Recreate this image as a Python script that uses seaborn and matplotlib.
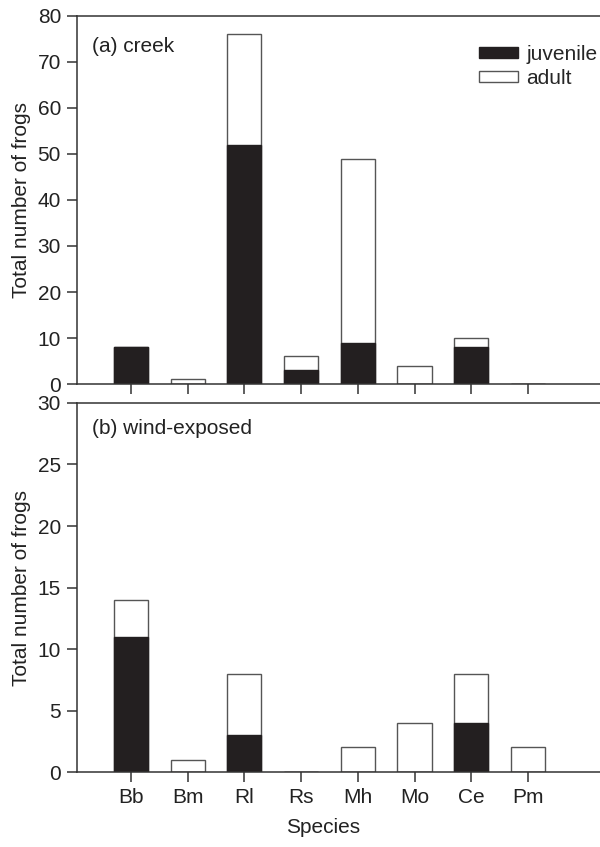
import matplotlib
matplotlib.use("Agg")
import matplotlib.pyplot as plt
import seaborn as sns
from matplotlib.patches import Patch

species = ["Bb", "Bm", "Rl", "Rs", "Mh", "Mo", "Ce", "Pm"]
creek_juvenile = [8, 0, 52, 3, 9, 0, 8, 0]
creek_total = [8, 1, 76, 6, 49, 4, 10, 0]
wind_juvenile = [11, 0, 3, 0, 0, 0, 4, 0]
wind_total = [14, 1, 8, 0, 2, 4, 8, 2]

sns.set_theme(style="ticks")
plt.rcParams["font.family"] = ["Liberation Sans", "DejaVu Sans"]
FS = 15
BLACK = "#231f20"
EDGE = "#555555"
SPINE = "#333333"

fig = plt.figure(figsize=(6.0, 8.47), dpi=100)
ax1 = fig.add_axes([77/600, 1-384/847, 523/600, 368/847])
ax2 = fig.add_axes([77/600, 1-772/847, 523/600, 369/847])

def panel(ax, juv, tot, ymax, step, title, ty):
    sns.barplot(x=species, y=tot, color="white", edgecolor=EDGE, linewidth=1.0,
                width=0.6, saturation=1, ax=ax)
    sns.barplot(x=species, y=juv, color=BLACK, edgecolor=BLACK, linewidth=1.0,
                width=0.6, saturation=1, ax=ax)
    ax.set_xlim(-0.95, 8.27)
    ax.set_ylim(0, ymax)
    ax.set_yticks(range(0, ymax + 1, step))
    ax.set_ylabel("Total number of frogs", fontsize=FS, labelpad=5, color="#222")
    ax.tick_params(axis="both", direction="out", length=7.2, width=1.1,
                   colors=SPINE, labelcolor="#222", labelsize=FS, pad=4.3)
    for s in ["left", "top", "bottom"]:
        ax.spines[s].set_color(SPINE)
        ax.spines[s].set_linewidth(1.1)
    ax.spines["right"].set_visible(False)
    ax.spines["top"].set_visible(True)
    ax.text(0.029, ty, title, transform=ax.transAxes, fontsize=FS,
            va="center", ha="left", color="#222")

panel(ax1, creek_juvenile, creek_total, 80, 10, "(a) creek", 0.918)
panel(ax2, wind_juvenile, wind_total, 30, 5, "(b) wind-exposed", 0.93)

ax1.set_xticklabels([])
ax1.set_xlabel("")
ax2.set_xlabel("Species", fontsize=FS, labelpad=11, color="#222")
ax2.xaxis.set_label_coords(0.47, -0.125)

handles = [Patch(facecolor=BLACK, edgecolor=BLACK, label="juvenile"),
           Patch(facecolor="white", edgecolor=EDGE, label="adult")]
ax1.legend(handles=handles, loc="upper left", bbox_to_anchor=(0.752, 0.945),
           frameon=False, fontsize=FS, handlelength=1.9, handleheight=0.45,
           handletextpad=0.4, labelspacing=0.25, borderaxespad=0)

fig.savefig("out.png", dpi=100)
